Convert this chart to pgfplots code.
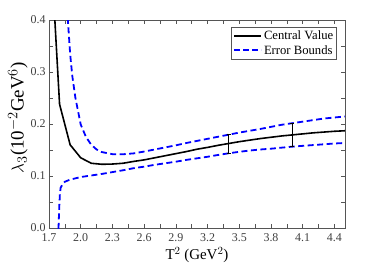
\documentclass[border=0pt]{standalone}
\usepackage{fontspec}
\setmainfont{Liberation Serif}
\usepackage{pgfplots}
\pgfplotsset{compat=1.18}
\definecolor{axgray}{RGB}{85,85,85}
\begin{document}
\begin{tikzpicture}
\begin{axis}[
  scale only axis, width=296bp, height=208bp,
  xmin=1.7, xmax=4.5, ymin=0, ymax=0.4,
  xtick={1.7,2.0,2.3,2.6,2.9,3.2,3.5,3.8,4.1,4.4},
  minor xtick={1.85,2.15,2.45,2.75,3.05,3.35,3.65,3.95,4.25},
  ytick={0,0.1,0.2,0.3,0.4},
  minor ytick={0.05,0.15,0.25,0.35},
  tick align=inside, tick pos=both,
  major tick length=4bp, minor tick length=4bp,
  axis line style={axgray, line width=0.8pt},
  every tick/.style={axgray, line width=0.6pt},
  tick label style={font=\fontsize{12}{13}\selectfont, text=black!75},
  xticklabel style={yshift=-2.5bp},
  /pgf/number format/.cd, fixed, fixed zerofill, precision=1, assume math mode=true,
  /pgfplots/.cd,
  xlabel={T$^2$ (GeV$^2$)},
  ylabel={$\lambda_3$(10$^{-2}$GeV$^6$)},
  xlabel style={font=\fontsize{15}{17}\selectfont, yshift=2bp},
  ylabel style={font=\fontsize{19}{21}\selectfont, at={(ticklabel cs:0.53)}, yshift=-4bp},
  legend style={at={(0.973,0.965)}, anchor=north east, draw=axgray, line width=0.6pt,
    font=\fontsize{12.7}{14}\selectfont, inner sep=1.5bp, row sep=0bp,
    legend cell align=left},
  clip=true,
]
\addplot[black, line width=1.6pt,
  legend image code/.code={\draw[black, line width=1.7pt] (0bp,0bp) -- (27bp,0bp);}] coordinates {
(1.7,0.600) (1.8,0.238) (1.9,0.160) (2.0,0.135) (2.1,0.1245) (2.2,0.1225)
(2.3,0.123) (2.4,0.1245) (2.5,0.128) (2.6,0.131) (2.7,0.135) (2.8,0.139)
(2.9,0.143) (3.0,0.147) (3.1,0.1515) (3.2,0.155) (3.3,0.159) (3.4,0.1625)
(3.5,0.166) (3.6,0.169) (3.7,0.172) (3.8,0.1745) (3.9,0.177) (4.0,0.179)
(4.1,0.181) (4.2,0.183) (4.3,0.1845) (4.4,0.186) (4.5,0.187)};
\addlegendentry{Central Value}
\addplot[blue, line width=1.8pt, dash pattern=on 6bp off 3.5bp,
  legend image code/.code={\draw[blue, line width=2pt, dash pattern=on 6bp off 3bp] (0bp,0bp) -- (27bp,0bp);}] coordinates {
(1.85,0.55) (1.88,0.395) (1.9,0.335) (1.92,0.293) (1.95,0.250) (2.0,0.199)
(2.05,0.175) (2.1,0.160) (2.15,0.151) (2.2,0.146) (2.3,0.142) (2.4,0.1418)
(2.5,0.1435) (2.6,0.147) (2.7,0.151) (2.8,0.155) (2.9,0.159) (3.0,0.1635)
(3.1,0.1675) (3.2,0.1715) (3.3,0.1755) (3.4,0.1795) (3.5,0.1835) (3.6,0.187)
(3.7,0.1905) (3.8,0.1945) (3.9,0.1985) (4.0,0.2015) (4.1,0.2045) (4.2,0.2075)
(4.3,0.2105) (4.4,0.2125) (4.5,0.2145)};
\addlegendentry{Error Bounds}
\addplot[blue, line width=1.8pt, dash pattern=on 6bp off 3.5bp, forget plot] coordinates {
(1.788,-0.02) (1.79,0.0) (1.797,0.040) (1.803,0.065) (1.81,0.077) (1.83,0.085)
(1.85,0.089) (1.9,0.093) (1.95,0.0955) (2.0,0.098) (2.1,0.101) (2.2,0.104)
(2.3,0.1075) (2.4,0.111) (2.5,0.115) (2.6,0.118) (2.7,0.1215) (2.8,0.1245)
(2.9,0.1275) (3.0,0.131) (3.1,0.134) (3.2,0.137) (3.3,0.1405) (3.4,0.1437)
(3.5,0.1465) (3.6,0.149) (3.7,0.151) (3.8,0.1525) (3.9,0.1545) (4.0,0.1564)
(4.1,0.158) (4.2,0.1595) (4.3,0.161) (4.4,0.1625) (4.5,0.1635)};
\addplot[black, line width=0.7pt, mark=-, mark size=2bp, forget plot] coordinates {(3.4,0.1437) (3.4,0.1805)};
\addplot[black, line width=0.7pt, mark=-, mark size=2bp, forget plot] coordinates {(4.0,0.1564) (4.0,0.2020)};
\end{axis}
\path ([shift={(-49bp,-45bp)}]current axis.south west) rectangle ([shift={(37bp,20bp)}]current axis.north east);
\end{tikzpicture}
\end{document}
